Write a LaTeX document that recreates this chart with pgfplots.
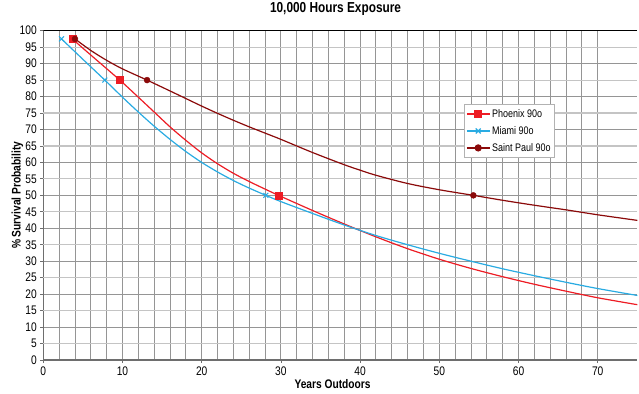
\documentclass[border=0pt]{standalone}
\usepackage{fontspec}
\setmainfont{Liberation Sans}[FakeStretch=0.82]
\usepackage{pgfplots}
\pgfplotsset{compat=1.18}
\definecolor{phx}{HTML}{ED1C24}
\definecolor{mia}{HTML}{29ABE2}
\definecolor{stp}{HTML}{8B0A0A}
\definecolor{gmaj}{HTML}{959595}
\definecolor{gmin}{HTML}{C4C4C4}
\definecolor{axc}{HTML}{6E6E6E}
\begin{document}
\begin{tikzpicture}
\begin{axis}[
  scale only axis, width=594bp, height=329.3bp,
  xmin=0, xmax=75, ymin=0, ymax=100,
  axis x line*=bottom, axis y line*=left,
  axis line style={axc, line width=1.5bp},
  xtick={0,10,...,70}, minor x tick num=4,
  ytick={0,10,...,100}, extra y ticks={5,15,...,95},
  extra y tick style={major grid style={gmin, line width=1.1bp}},
  grid=both,
  major grid style={gmaj, line width=0.9bp},
  minor grid style={gmaj, line width=0.9bp},
  tick align=outside, major tick length=3bp, minor tick length=0pt,
  tick style={axc, line width=0.8bp},
  ticklabel style={font=\fontsize{12.5}{12.5}\selectfont},
  /pgf/number format/assume math mode=true,
  title={\textbf{10,000 Hours Exposure}},
  title style={at={(axis description cs:0.492,1)}, anchor=center, yshift=15.5bp, font=\fontsize{14.5}{15}\selectfont},
  xlabel={\textbf{Years Outdoors}},
  xlabel style={at={(axis description cs:0.487,0)}, anchor=center, yshift=-24.5bp, font=\fontsize{12.5}{12.5}\selectfont},
  ylabel={\textbf{\% Survival Probability}},
  ylabel style={at={(axis description cs:0,0.5)}, anchor=center, yshift=26bp, font=\fontsize{12.5}{12.5}\selectfont},
  legend style={at={(axis cs:53.1,77.6)}, anchor=north west, draw=gray!60, line width=0.8bp,
    font=\fontsize{11}{12}\selectfont, inner xsep=2bp, inner ysep=2.5bp, row sep=3.5bp,
    cells={anchor=west}},
  legend image code/.code={\draw[mark repeat=2,mark phase=2,#1] plot coordinates {(0cm,0cm) (0.4cm,0cm) (0.8cm,0cm)};},
]
\addlegendimage{phx, line width=1.2bp, mark=square*, mark size=3.5bp}
\addlegendentry{Phoenix 90o}
\addlegendimage{mia, line width=1.2bp, mark=x, mark size=3.5bp}
\addlegendentry{Miami 90o}
\addlegendimage{stp, line width=1.2bp, mark=*, mark size=3bp}
\addlegendentry{Saint Paul 90o}

% Phoenix curve
\addplot[phx, line width=1.2bp, smooth, forget plot] coordinates {
(3.66,97.5)(6,92.6)(9.66,85)(12,79.8)(14,75.3)(16,70.8)(18,66.7)(20,62.9)(22,59.6)(24,56.7)(26,54.2)(28,51.9)(29.7,50)(34,45.4)(38,41.3)(42,37.4)(46,33.8)(50,30.6)(54,27.8)(58,25.3)(62,23.0)(66,20.9)(70,18.9)(75,16.8)};
% Miami curve
\addplot[mia, line width=1.2bp, smooth, forget plot] coordinates {
(2.3,97.5)(5,91.3)(7.77,85)(10,79.8)(12,75.3)(14,71.0)(16,67.0)(18,63.3)(20,60.0)(22,57.1)(24,54.5)(26,52.2)(28.1,50)(30,48.1)(34,44.5)(38,41.0)(42,37.8)(46,35.0)(50,32.4)(54,30.0)(58,27.7)(62,25.6)(66,23.6)(70,21.7)(75,19.6)};
% Saint Paul curve
\addplot[stp, line width=1.2bp, smooth, forget plot] coordinates {
(4,97.5)(6,94.0)(8,91.0)(10,88.4)(13.1,85)(16,81.7)(18,79.4)(20,77.1)(22,74.9)(24,72.8)(26,70.8)(28,68.9)(30,67.0)(34,63.0)(38,59.3)(40,57.65)(42,56.1)(46,53.6)(50,51.7)(54.3,50)(58,48.5)(62,47.0)(66,45.6)(70,44.1)(75,42.4)};
% markers
\addplot[phx, only marks, mark=square*, mark size=3.5bp, forget plot] coordinates {(3.66,97.5)(9.66,85)(29.7,50)};
\addplot[mia, only marks, mark=x, mark size=3.5bp, line width=1bp, forget plot] coordinates {(2.3,97.5)(7.77,85)(28.1,50)};
\addplot[stp, only marks, mark=*, mark size=3bp, forget plot] coordinates {(4,97.5)(13.1,85)(54.3,50)};
\draw[black, line width=1.5bp] (rel axis cs:0,1) -- (rel axis cs:1,1);
\end{axis}
\pgfresetboundingbox
\path[use as bounding box] ([shift={(-43.3bp,-34bp)}]current axis.south west) rectangle ([shift={(1.7bp,30.7bp)}]current axis.north east);
\end{tikzpicture}
\end{document}
